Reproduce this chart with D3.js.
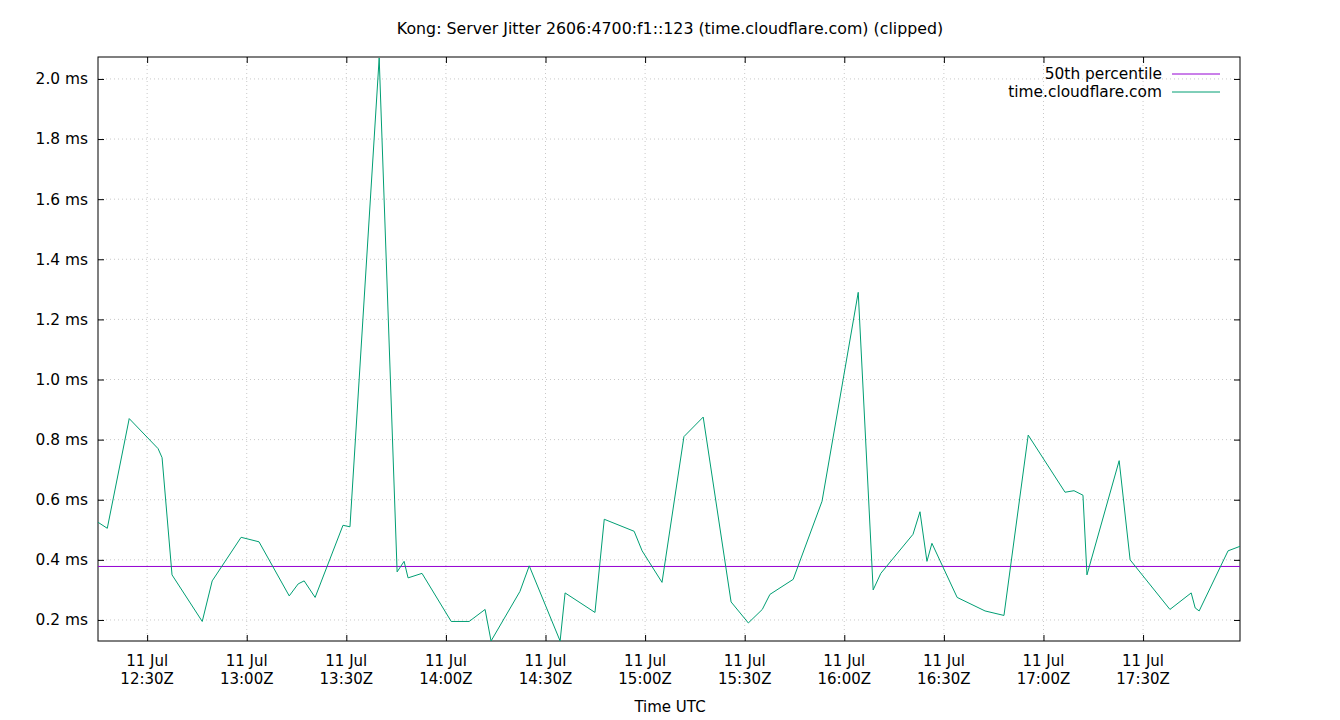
<!DOCTYPE html>
<html><head><meta charset="utf-8">
<script src="https://cdn.jsdelivr.net/npm/d3@7"></script>
<style>body{margin:0;background:#fff}text{font-family:"DejaVu Sans",sans-serif}</style>
</head><body><svg id="c" width="1340" height="720"></svg>
<script>
// minutes after 11 Jul 12:00Z
const minutes=[15.2,18,24.6,33.3,34.5,37.5,46.6,49.6,58.3,63.7,72.8,75.5,77.3,80.6,89,91.1,99.9,105.3,107.4,108.6,112.8,121.6,127,131.8,133.6,142.3,145.1,154.4,155.9,164.9,167.7,176.7,179.1,185.1,191.7,197.5,205.9,211.1,215.3,217.6,224.6,233.3,244.2,248.7,251,260.7,262.8,264.9,266.4,274,282.4,288.1,295.4,306.5,309.2,311.9,313.1,322.8,326.1,338.1,344.5,345.7,346.9,355.6,359.2];
const jitter=[0.525,0.505,0.87,0.77,0.74,0.35,0.195,0.33,0.475,0.46,0.28,0.32,0.33,0.275,0.515,0.51,2.07,0.36,0.395,0.34,0.355,0.195,0.195,0.235,0.13,0.295,0.38,0.13,0.29,0.225,0.535,0.495,0.43,0.325,0.81,0.875,0.26,0.19,0.235,0.285,0.335,0.595,1.29,0.3,0.355,0.485,0.56,0.395,0.455,0.275,0.23,0.215,0.815,0.625,0.63,0.615,0.35,0.73,0.40,0.235,0.29,0.24,0.23,0.43,0.445];
const median=0.378;
const yTicks=[0.2,0.4,0.6,0.8,1.0,1.2,1.4,1.6,1.8,2.0];
const xTicks=[30,60,90,120,150,180,210,240,270,300,330];
const xTickLabels=["12:30Z","13:00Z","13:30Z","14:00Z","14:30Z","15:00Z","15:30Z","16:00Z","16:30Z","17:00Z","17:30Z"];
const title="Kong: Server Jitter 2606:4700:f1::123 (time.cloudflare.com) (clipped)";

const L=98,R=1240,T=57,B=641;
const svg=d3.select("#c");
const x=d3.scaleLinear().domain([15.2,359.2]).range([L,R]);
const y=d3.scaleLinear().domain([0.13,2.073]).range([B,T]);
const g=svg.append("g");
yTicks.forEach(v=>g.append("line").attr("x1",L).attr("x2",R).attr("y1",y(v)).attr("y2",y(v)).attr("stroke","#c8c8c8").attr("stroke-dasharray","1,3"));
xTicks.forEach(v=>g.append("line").attr("x1",x(v)).attr("x2",x(v)).attr("y1",T).attr("y2",B).attr("stroke","#c8c8c8").attr("stroke-dasharray","1,3"));
const ya=svg.append("g").attr("transform",`translate(${L},0)`).call(d3.axisLeft(y).tickValues(yTicks).tickSize(-6).tickPadding(10).tickFormat(d=>d.toFixed(1)+" ms"));
ya.select(".domain").remove();
ya.selectAll("text").attr("font-size",15.4).attr("fill","#000").attr("font-family","DejaVu Sans");
svg.append("g").attr("transform",`translate(${R},0)`).call(d3.axisRight(y).tickValues(yTicks).tickSize(-6).tickFormat("")).select(".domain").remove();
const xa=svg.append("g").attr("transform",`translate(0,${B})`).call(d3.axisBottom(x).tickValues(xTicks).tickSize(-6).tickFormat(""));
xa.select(".domain").remove();
svg.append("g").attr("transform",`translate(0,${T})`).call(d3.axisTop(x).tickValues(xTicks).tickSize(-6).tickFormat("")).select(".domain").remove();
xTicks.forEach((v,i)=>{
  svg.append("text").attr("x",x(v)).attr("y",666).attr("text-anchor","middle").attr("font-size",15).text("11 Jul");
  svg.append("text").attr("x",x(v)).attr("y",684).attr("text-anchor","middle").attr("font-size",15).text(xTickLabels[i]);
});
svg.append("rect").attr("x",L).attr("y",T).attr("width",R-L).attr("height",B-T).attr("fill","none").attr("stroke","#000");
svg.append("clipPath").attr("id","cp").append("rect").attr("x",L).attr("y",T).attr("width",R-L).attr("height",B-T);
const pg=svg.append("g").attr("clip-path","url(#cp)");
pg.append("line").attr("x1",L).attr("x2",R).attr("y1",y(median)).attr("y2",y(median)).attr("stroke","#9400d3");
pg.append("path").datum(minutes.map((m,i)=>[m,jitter[i]])).attr("d",d3.line().x(d=>x(d[0])).y(d=>y(d[1]))).attr("fill","none").attr("stroke","#009e73");
[["50th percentile","#9400d3",74],["time.cloudflare.com","#009e73",92]].forEach(([t,c,yy])=>{
  svg.append("text").attr("x",1162).attr("y",yy+5).attr("text-anchor","end").attr("font-size",15.4).text(t);
  svg.append("line").attr("x1",1172).attr("x2",1220).attr("y1",yy).attr("y2",yy).attr("stroke",c);
});
svg.append("text").attr("x",670).attr("y",34).attr("text-anchor","middle").attr("font-size",15.8).text(title);
svg.append("text").attr("x",670).attr("y",712).attr("text-anchor","middle").attr("font-size",15).text("Time UTC");
</script></body></html>
